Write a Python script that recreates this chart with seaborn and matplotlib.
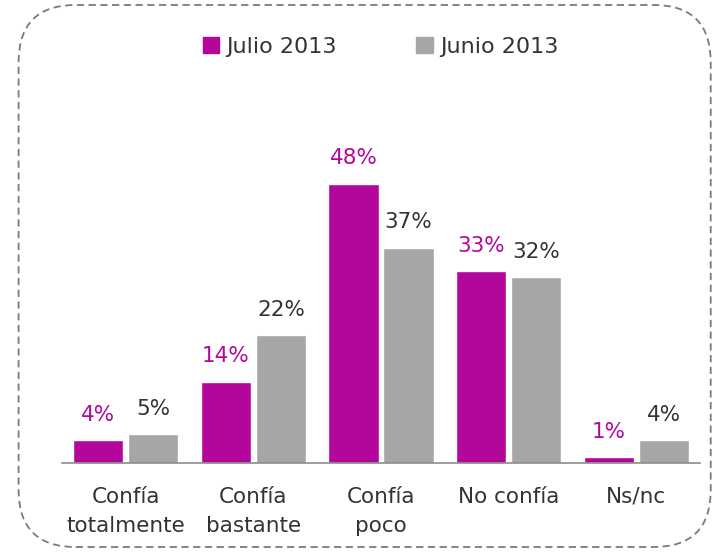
import pandas as pd
import numpy as np
import matplotlib.pyplot as plt
import seaborn as sns
from matplotlib.patches import FancyBboxPatch, Patch

# datos
categorias = ['Confía\ntotalmente', 'Confía\nbastante', 'Confía\npoco', 'No confía', 'Ns/nc']
julio_2013 = [4, 14, 48, 33, 1]
junio_2013 = [5, 22, 37, 32, 4]
series = ['Julio 2013', 'Junio 2013']

MAGENTA = '#B3069B'
GRIS = '#A6A6A6'
TEXTO = '#333333'

df = pd.DataFrame({
    'categoria': categorias * 2,
    'valor': julio_2013 + junio_2013,
    'serie': [series[0]] * len(categorias) + [series[1]] * len(categorias),
})

sns.set_style('white')
plt.rcParams['font.family'] = ['DejaVu Sans']

fig = plt.figure(figsize=(7.15, 5.52), dpi=100)
ax = fig.add_axes([0.0867, 0.161, 0.8923, 0.580])

sns.barplot(data=df, x='categoria', y='valor', hue='serie',
            palette=[MAGENTA, GRIS], width=0.862, gap=0.09,
            saturation=1, legend=False, ax=ax)

ax.set_ylim(0, 55)
ax.set_xlim(-0.5, len(categorias) - 0.5)

# etiquetas de valores
for cont, col in zip(ax.containers, [MAGENTA, TEXTO]):
    ax.bar_label(cont, labels=[f'{v:g}%' for v in cont.datavalues],
                 padding=11, color=col, fontsize=15.5)

# ejes
for s in ['top', 'right', 'left']:
    ax.spines[s].set_visible(False)
ax.spines['bottom'].set_color('#8C8C8C')
ax.spines['bottom'].set_linewidth(1.2)
ax.set_yticks([])
ax.set_xlabel('')
ax.set_ylabel('')
ax.set_xticks(np.arange(len(categorias)))
ax.set_xticklabels(categorias, fontsize=15.5, color=TEXTO, linespacing=1.6)
ax.tick_params(axis='x', length=0, pad=17)
ax.set_xticks(np.arange(-0.5, len(categorias)), minor=True)
ax.tick_params(axis='x', which='minor', length=7, width=1.2, color='#8C8C8C')

# leyenda
handles = [Patch(color=MAGENTA), Patch(color=GRIS)]
fig.legend(handles, series, loc='center', bbox_to_anchor=(0.532, 0.915),
           ncol=2, frameon=False, fontsize=16, handlelength=0.75,
           handleheight=0.75, handletextpad=0.3, columnspacing=3.6,
           labelcolor=TEXTO)

# marco redondeado discontinuo
marco = FancyBboxPatch((0.026, 0.009), 0.968, 0.982,
                       boxstyle='round,pad=0,rounding_size=0.08',
                       transform=fig.transFigure, fill=False,
                       edgecolor='#7A7A7A', linestyle=(0, (4, 2.5)),
                       linewidth=1.3, mutation_aspect=715 / 552)
fig.patches.append(marco)

plt.savefig('out.png', dpi=100)
